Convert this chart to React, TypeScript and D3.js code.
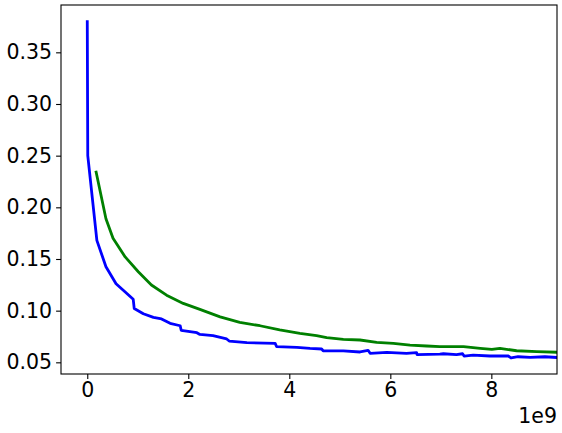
import * as d3 from "d3";
import { useEffect, useRef } from "react";

// x values in units of 1e9
const blueX = [0, 0.01, 0.19, 0.37, 0.57, 0.91, 0.93, 1.11, 1.31, 1.47, 1.64, 1.84, 1.86, 2.17, 2.23, 2.49, 2.76, 2.81, 3.16, 3.72, 3.75, 4.15, 4.41, 4.64, 4.67, 5.07, 5.40, 5.56, 5.60, 5.93, 6.32, 6.52, 6.53, 6.98, 7.05, 7.31, 7.43, 7.46, 7.64, 7.97, 8.34, 8.39, 8.53, 8.77, 9.06, 9.40];
const blueY = [0.381, 0.25, 0.168, 0.1425, 0.126, 0.111, 0.102, 0.097, 0.0935, 0.092, 0.0877, 0.0854, 0.081, 0.0787, 0.077, 0.0758, 0.0726, 0.0706, 0.069, 0.0684, 0.0651, 0.0645, 0.0635, 0.0629, 0.0612, 0.061, 0.060, 0.0616, 0.0587, 0.0597, 0.0587, 0.0593, 0.0574, 0.058, 0.0583, 0.0574, 0.0583, 0.0561, 0.057, 0.0561, 0.0561, 0.0542, 0.0554, 0.0548, 0.0554, 0.0544];

const greenX = [0.17, 0.37, 0.51, 0.75, 1.01, 1.27, 1.57, 1.90, 2.23, 2.63, 3.02, 3.42, 3.81, 4.21, 4.54, 4.74, 5.07, 5.40, 5.73, 6.06, 6.39, 6.72, 6.98, 7.12, 7.45, 7.78, 8.01, 8.17, 8.50, 8.90, 9.40];
const greenY = [0.2354, 0.189, 0.170, 0.152, 0.1377, 0.1248, 0.115, 0.107, 0.1012, 0.094, 0.0887, 0.0854, 0.0813, 0.078, 0.0758, 0.0738, 0.0723, 0.0716, 0.0694, 0.0684, 0.0667, 0.0658, 0.0651, 0.0651, 0.0651, 0.0635, 0.0626, 0.0635, 0.0612, 0.0603, 0.0596];

const xTicks = [0, 2, 4, 6, 8];
const yTicks = [0.05, 0.1, 0.15, 0.2, 0.25, 0.3, 0.35];

export default function App() {
  const ref = useRef<SVGSVGElement>(null);

  useEffect(() => {
    const width = 562;
    const height = 433;
    const margin = { top: 5, right: 5, bottom: 59, left: 61 };
    const font = "DejaVu Sans, sans-serif";

    const svg = d3.select(ref.current);
    svg.selectAll("*").remove();

    const x = d3.scaleLinear()
      .domain([-0.52, 9.3])
      .range([margin.left, width - margin.right]);

    const y = d3.scaleLinear()
      .domain([0.0387, 0.3958])
      .range([height - margin.bottom, margin.top]);

    // clip lines to the axes box
    svg.append("clipPath")
      .attr("id", "plot-clip")
      .append("rect")
      .attr("x", margin.left)
      .attr("y", margin.top)
      .attr("width", width - margin.left - margin.right)
      .attr("height", height - margin.top - margin.bottom);

    const line = d3.line<[number, number]>()
      .x(d => x(d[0]))
      .y(d => y(d[1]));

    const series = [
      { xs: greenX, ys: greenY, color: "#008000" },
      { xs: blueX, ys: blueY, color: "#0000ff" },
    ];

    series.forEach(s => {
      const pts = s.xs.map((v, i) => [v, s.ys[i]] as [number, number]);
      svg.append("path")
        .datum(pts)
        .attr("clip-path", "url(#plot-clip)")
        .attr("fill", "none")
        .attr("stroke", s.color)
        .attr("stroke-width", 2.8)
        .attr("stroke-linejoin", "round")
        .attr("stroke-linecap", "butt")
        .attr("d", line);
    });

    // axes
    const xAxis = d3.axisBottom(x)
      .tickValues(xTicks)
      .tickSize(4.9)
      .tickPadding(4)
      .tickFormat(d => String(d));

    const yAxis = d3.axisLeft(y)
      .tickValues(yTicks)
      .tickSize(4.9)
      .tickPadding(4)
      .tickFormat(d3.format(".2f"));

    const gx = svg.append("g")
      .attr("transform", `translate(0, ${height - margin.bottom})`)
      .call(xAxis);

    const gy = svg.append("g")
      .attr("transform", `translate(${margin.left}, 0)`)
      .call(yAxis);

    [gx, gy].forEach(g => {
      g.select(".domain").remove();
      g.selectAll("line").attr("stroke", "#000").attr("stroke-width", 1.1);
      g.selectAll("text")
        .attr("fill", "#000")
        .style("font-family", font)
        .style("font-size", "20.5px");
    });

    // frame
    svg.append("rect")
      .attr("x", margin.left)
      .attr("y", margin.top)
      .attr("width", width - margin.left - margin.right)
      .attr("height", height - margin.top - margin.bottom)
      .attr("fill", "none")
      .attr("stroke", "#000")
      .attr("stroke-width", 1.1);

    // offset text
    svg.append("text")
      .attr("x", width - margin.right)
      .attr("y", 423)
      .attr("text-anchor", "end")
      .style("font-family", font)
      .style("font-size", "20.5px")
      .text("1e9");
  }, []);

  return (
    <svg
      ref={ref}
      width={562}
      height={433}
      style={{ position: "absolute", left: 0, top: 0, background: "#fff" }}
    />
  );
}
